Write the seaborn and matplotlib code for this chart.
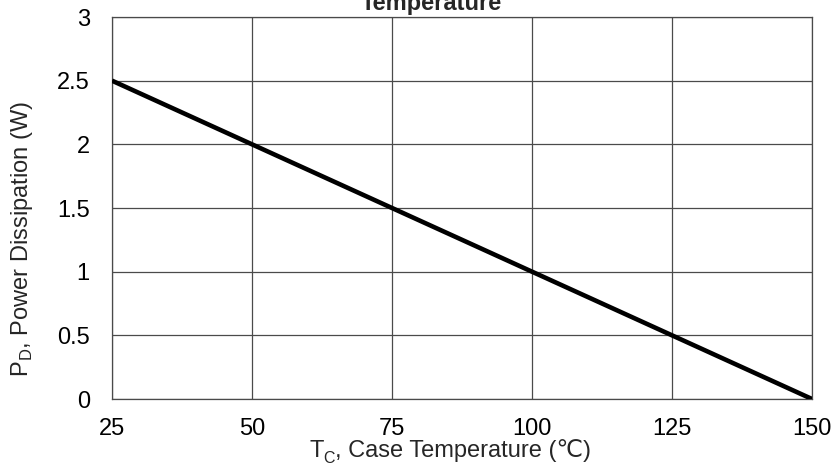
import matplotlib
matplotlib.use("Agg")
import matplotlib.pyplot as plt
import seaborn as sns
import pandas as pd

temps = [25, 150]
power = [2.5, 0.0]
xticks = [25, 50, 75, 100, 125, 150]
yticks = [0, 0.5, 1, 1.5, 2, 2.5, 3]
ytick_labels = ["0", "0.5", "1", "1.5", "2", "2.5", "3"]
title_text = "Temperature"
ylabel_text = "P$_\\mathregular{D}$, Power Dissipation (W)"
xlabel_main = "T"
xlabel_sub = "C"
xlabel_rest = ", Case Temperature (℃)"

sns.set_theme(style="white")
plt.rcParams['font.family'] = ['Liberation Sans', 'DejaVu Sans']
plt.rcParams['mathtext.fontset'] = 'custom'
plt.rcParams['mathtext.rm'] = 'Liberation Sans'

df = pd.DataFrame({"Tc": temps, "Pd": power})

W, H = 833, 465
fig = plt.figure(figsize=(W / 100, H / 100), dpi=100)
ax = fig.add_axes([112 / W, 1 - 399 / H, (812 - 112) / W, (399 - 17) / H])

sns.lineplot(data=df, x="Tc", y="Pd", ax=ax, color="black", linewidth=3.3,
             zorder=3, solid_capstyle="butt")

ax.set_xlim(25, 150)
ax.set_ylim(0, 3)
ax.set_xticks(xticks)
ax.set_yticks(yticks)
ax.set_yticklabels(ytick_labels)
ax.grid(True, color="#4a4a4a", linewidth=0.9)
for s in ax.spines.values():
    s.set_color("#4a4a4a")
    s.set_linewidth(0.9)
ax.tick_params(axis="both", labelsize=17, labelcolor="black")
ax.tick_params(axis="y", color="#4a4a4a", length=2.5, width=0.8, pad=13.5)
ax.tick_params(axis="x", length=0, pad=14)
ax.set_xlabel("")
ax.set_ylabel(ylabel_text, fontsize=17)
ax.yaxis.set_label_coords((35 - 112) / 700, (399 - 239) / 382)

# x label built from pieces (subscript + ℃ fallback glyph)
t1 = fig.text(309 / W, (H - 457) / H, xlabel_main, fontsize=17,
              ha="left", va="baseline")
t2 = ax.annotate(xlabel_sub, xy=(1, 0), xycoords=t1, xytext=(0, -3),
                 textcoords="offset points", fontsize=11.5,
                 ha="left", va="bottom", annotation_clip=False)
t3 = ax.annotate(xlabel_rest, xy=(1, 0), xycoords=(t2, t1), xytext=(0, 0),
                 textcoords="offset points", fontsize=17,
                 ha="left", va="bottom", annotation_clip=False,
                 family=['Liberation Sans', 'DejaVu Sans'])

fig.text(431 / W, (H - 10) / H, title_text, ha="center", va="baseline",
         fontsize=17, fontweight="bold")

fig.savefig("out.png", dpi=100)
